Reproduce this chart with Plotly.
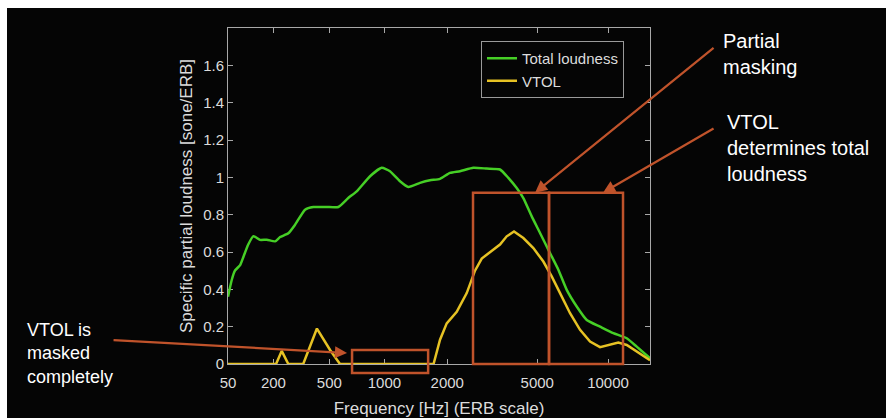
import numpy as np
import plotly.graph_objects as go

# ---------------- data ----------------
total_freq = [50, 60, 69, 84, 94, 109, 126, 149, 174, 207,
              228, 265, 297, 350, 397, 482, 565, 643, 716, 843,
              968, 1066, 1195, 1312, 1492, 1663, 1852, 2059, 2286, 2624,
              3011, 3444, 3747, 4076, 4355, 4735, 5141, 5673, 6159, 6687,
              7374, 8132, 9255, 10527, 11985, 13200, 15000]
total_val = [0.36, 0.45, 0.50, 0.53, 0.575, 0.64, 0.685, 0.665, 0.666, 0.657,
             0.68, 0.70, 0.745, 0.827, 0.841, 0.841, 0.841, 0.889, 0.925, 1.006,
             1.051, 1.033, 0.979, 0.948, 0.970, 0.984, 0.992, 1.024, 1.033, 1.051,
             1.047, 1.042, 0.997, 0.943, 0.889, 0.791, 0.702, 0.594, 0.505, 0.397,
             0.308, 0.236, 0.200, 0.165, 0.138, 0.093, 0.031]

vtol_freq = [50, 211, 235, 265, 340, 419, 505, 577, 1728, 1852,
             1988, 2209, 2451, 2670, 2861, 3112, 3445, 3686, 3967, 4355,
             4811, 5312, 5769, 6263, 6908, 7618, 8398, 9255, 10028, 11050,
             11985, 13200, 15000]
vtol_val = [0, 0, 0.07, 0, 0, 0.19, 0.075, 0, 0, 0.13,
            0.218, 0.28, 0.38, 0.50, 0.565, 0.60, 0.64, 0.684, 0.71, 0.675,
            0.621, 0.549, 0.469, 0.38, 0.272, 0.183, 0.12, 0.09, 0.102, 0.115,
            0.102, 0.066, 0.02]

x_tick_freqs = [50, 200, 500, 1000, 2000, 5000, 10000]
x_tick_labels = ["50", "200", "500", "1000", "2000", "5000", "10000"]
y_tick_vals = [0, 0.2, 0.4, 0.6, 0.8, 1.0, 1.2, 1.4, 1.6]
freq_range = [50, 15000]
y_max = 1.8

# highlight boxes (frequency span in Hz, value span)
box_masked = dict(f0=675, f1=1630, v0=-0.048, v1=0.075)
box_partial = dict(f0=2616, f1=5618, v0=0.0, v1=0.918)
box_vtol = dict(f0=5618, f1=11563, v0=0.0, v1=0.918)

# arrow heads (frequency, value)
arrow_partial_head = (4895, 0.918)
arrow_vtol_head = (9530, 0.918)
arrow_masked_head = (633, 0.059)


def erb(f):
    f = np.asarray(f, dtype=float)
    return 21.4 * np.log10(1 + 0.00437 * f)


# ---------------- layout geometry ----------------
W, H = 886, 418
L, R, T, B = 228, 236, 28, 54
PW, PH = W - L - R, H - T - B


def px(xpix):
    return (xpix - L) / PW


def py(ypix):
    return (H - B - ypix) / PH


ORANGE = "#c0532b"
GREEN = "#46cf26"
YELLOW = "#e6c224"
AXIS = "#a8a8a8"
TEXT = "#dcdcdc"
BG = "#050505"
FONT = "Liberation Sans, Arial, sans-serif"

fig = go.Figure()
fig.add_trace(go.Scatter(x=erb(total_freq), y=total_val, mode="lines",
                         name="Total loudness",
                         line=dict(color=GREEN, width=2.5, shape="spline", smoothing=0.5),
                         cliponaxis=False))
fig.add_trace(go.Scatter(x=erb(vtol_freq), y=vtol_val, mode="lines",
                         name="VTOL", line=dict(color=YELLOW, width=2.5),
                         cliponaxis=False))

shapes = []
for bx in (box_masked, box_partial, box_vtol):
    shapes.append(dict(type="rect", xref="x", yref="paper",
                       x0=float(erb(bx["f0"])), x1=float(erb(bx["f1"])),
                       y0=bx["v0"] / y_max, y1=bx["v1"] / y_max,
                       line=dict(color=ORANGE, width=2.5), layer="above"))
# white strips of the original screenshot (top and left edge)
shapes.append(dict(type="rect", xref="paper", yref="paper", x0=px(-5), x1=px(W + 5),
                   y0=py(8), y1=py(-5), fillcolor="white", line=dict(width=0)))
shapes.append(dict(type="rect", xref="paper", yref="paper", x0=px(-5), x1=px(7),
                   y0=py(H + 5), y1=py(-5), fillcolor="white", line=dict(width=0)))

annotations = []
for (f, v), (dx, dy) in ((arrow_partial_head, (180, -146)),
                         (arrow_vtol_head, (112, -65)),
                         (arrow_masked_head, (-235, -13))):
    annotations.append(dict(x=float(erb(f)), y=v, xref="x", yref="y", text="",
                            showarrow=True, ax=dx, ay=dy, arrowhead=2, arrowsize=1.1,
                            arrowwidth=2.2, arrowcolor=ORANGE, standoff=0))

annotations.append(dict(xref="paper", yref="paper", x=px(721), y=py(28),
                        xanchor="left", yanchor="top", align="left", showarrow=False,
                        text="Partial<br>masking",
                        font=dict(family=FONT, size=20, color="white")))
annotations.append(dict(xref="paper", yref="paper", x=px(725), y=py(109),
                        xanchor="left", yanchor="top", align="left", showarrow=False,
                        text="VTOL<br>determines total<br>loudness",
                        font=dict(family=FONT, size=20, color="white")))
annotations.append(dict(xref="paper", yref="paper", x=px(25), y=py(318),
                        xanchor="left", yanchor="top", align="left", showarrow=False,
                        text="VTOL is<br>masked<br>completely",
                        font=dict(family=FONT, size=18, color="white")))

fig.update_layout(
    width=W, height=H,
    margin=dict(l=L, r=R, t=T, b=B, autoexpand=False),
    paper_bgcolor=BG, plot_bgcolor=BG,
    font=dict(family=FONT, color=TEXT),
    showlegend=True,
    legend=dict(x=px(481), y=py(41), xanchor="left", yanchor="top",
                bgcolor=BG, bordercolor="#9a9a9a", borderwidth=1,
                font=dict(family=FONT, size=15, color=TEXT),
                tracegroupgap=0, itemwidth=30),
    shapes=shapes, annotations=annotations,
    xaxis=dict(range=[float(erb(freq_range[0])), float(erb(freq_range[1]))],
               tickvals=list(erb(x_tick_freqs)), ticktext=x_tick_labels,
               showline=True, linecolor=AXIS, linewidth=1, mirror="ticks",
               ticks="inside", ticklen=5, tickcolor=AXIS, ticklabelstandoff=5,
               showgrid=False, zeroline=False, layer="below traces",
               tickfont=dict(family=FONT, size=15, color=TEXT),
               title=dict(text="Frequency [Hz] (ERB scale)",
                          font=dict(family=FONT, size=17, color=TEXT), standoff=16)),
    yaxis=dict(range=[0, y_max], tickvals=y_tick_vals,
               showline=True, linecolor=AXIS, linewidth=1, mirror="ticks",
               ticks="inside", ticklen=5, tickcolor=AXIS,
               showgrid=False, zeroline=False, layer="below traces",
               tickfont=dict(family=FONT, size=15, color=TEXT),
               title=dict(text="Specific partial loudness [sone/ERB]",
                          font=dict(family=FONT, size=17, color=TEXT), standoff=6)),
)

fig.write_html("out.html")
